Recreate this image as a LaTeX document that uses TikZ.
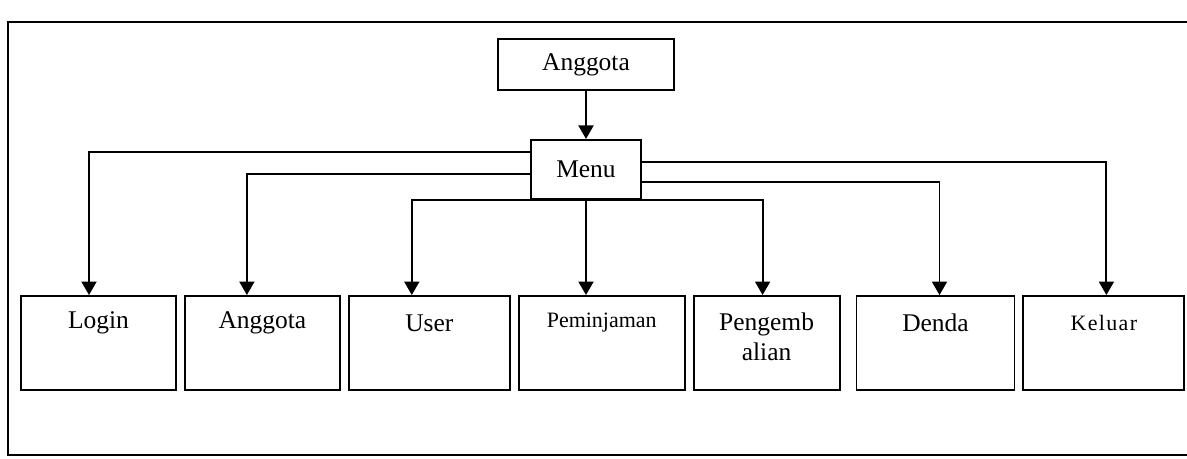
\documentclass[tikz,border=0pt]{standalone}
\usepackage{fontspec}
\setmainfont{Liberation Serif}
\newfontfamily\spaced[LetterSpace=6]{Liberation Serif}
\usetikzlibrary{arrows.meta, positioning}

\begin{document}
\begin{tikzpicture}[
  x=0.02cm, y=-0.02cm,
  >={Triangle[length=0.27cm, width=0.3cm]},
  node distance=0.14cm,
  every node/.style={font=\fontsize{14.5}{17}\selectfont},
  head/.style={draw, line width=1.1pt, minimum width=3.52cm, minimum height=1.02cm},
  menuitem/.style={draw, line width=1.1pt, minimum height=1.88cm},
  txt/.style={anchor=center, yshift=-0.56cm},
  conn/.style={->, line width=1.1pt}
]
  \useasboundingbox (0,0) rectangle (1187,459);
  \draw[line width=1.1pt] (1187,22) -- (8,22) -- (8,455) -- (1187,455);

  \node[head] (anggota) at (586,64.5) {Anggota};
  \node[head, minimum width=2.2cm, minimum height=1.18cm, below=0.96cm of anggota] (menu) {Menu};

  \node[menuitem, minimum width=3.1cm, label={[txt]north:Login}] (login) at (98.5,343) {};
  \node[menuitem, minimum width=3.1cm, right=of login, label={[txt]north:Anggota}] (subanggota) {};
  \node[menuitem, minimum width=3.22cm, right=of subanggota, label={[txt]north:User}] (user) {};
  \node[menuitem, minimum width=3.32cm, right=of user,
        label={[txt, font=\fontsize{12.5}{15}\selectfont]north:Peminjaman}] (pinjam) {};
  \node[menuitem, minimum width=2.92cm, right=of pinjam,
        label={[txt, yshift=-0.27cm, align=center]north:Pengemb\\alian}] (kembali) {};
  \node[menuitem, minimum width=3.16cm, right=0.3cm of kembali, label={[txt]north:Denda}] (denda) {};
  \node[menuitem, minimum width=3.22cm, right=of denda,
        label={[txt, font=\spaced\fontsize{12.5}{15}\selectfont]north:Keluar}] (keluar) {};

  \draw[conn] (anggota) -- (menu);
  \draw[conn] ([yshift=0.35cm]menu.west) -| ([xshift=-0.19cm]login.north);
  \draw[conn] ([yshift=-0.09cm]menu.west) -| ([xshift=-0.31cm]subanggota.north);
  \draw[conn] (menu.south) -| ([xshift=-0.35cm]user.north);
  \draw[conn] (menu) -- (menu |- pinjam.north);
  \draw[conn] (menu.south) -| ([xshift=-0.08cm]kembali.north);
  \draw[conn] ([yshift=-0.25cm]menu.east) -| ([xshift=0.08cm]denda.north);
  \draw[conn] ([yshift=0.15cm]menu.east) -| ([xshift=0.05cm]keluar.north);
\end{tikzpicture}
\end{document}
